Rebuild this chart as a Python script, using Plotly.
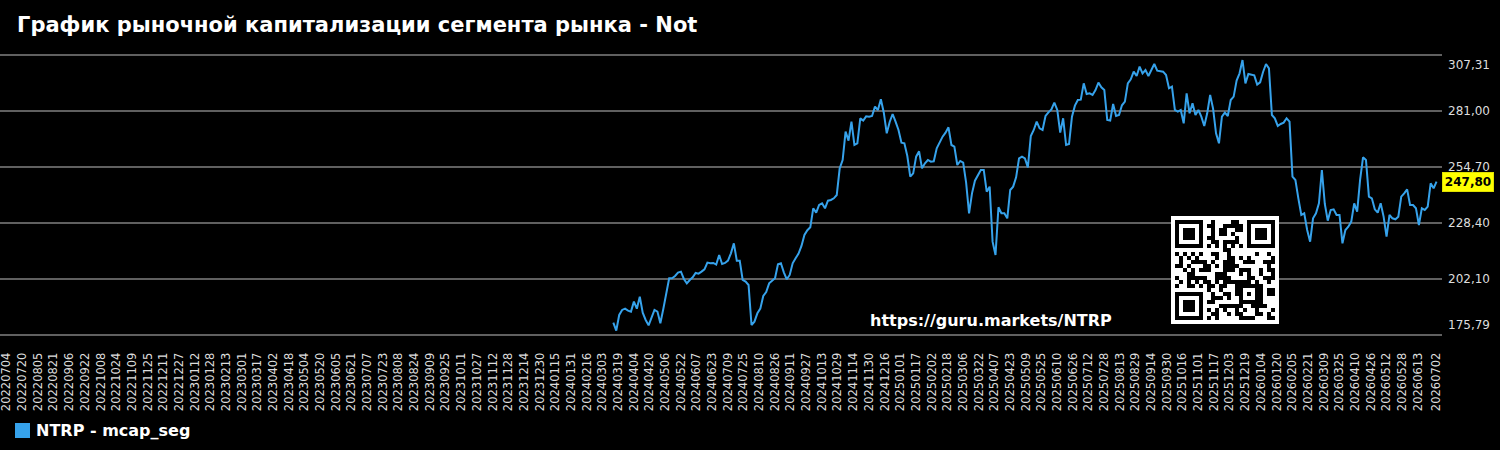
import plotly.graph_objects as go
import pandas as pd

# ---------------- data ----------------
series_name = "NTRP - mcap_seg"
start_date = "2024-03-14"
step = "3D"
mcap_values = [
    181.60, 177.84, 185.20, 187.55, 188.17, 187.23, 186.77, 191.46, 188.17, 193.81,
    186.30, 182.85, 180.35, 183.63, 187.55, 186.77, 181.29, 188.02, 194.59, 202.42,
    202.42, 203.52, 205.08, 205.55, 202.11, 200.07, 201.64, 202.89, 204.93, 204.61,
    205.55, 206.65, 209.78, 209.47, 209.62, 208.84, 213.38, 209.15, 209.62, 210.72,
    214.16, 218.86, 210.72, 210.72, 201.64, 200.86, 199.29, 180.50, 182.07, 185.98,
    188.17, 194.12, 196.00, 200.07, 201.32, 202.42, 209.00, 209.47, 205.24, 201.95,
    203.99, 209.47, 211.81, 214.01, 217.61, 222.77, 225.00, 226.37, 235.30, 233.26,
    236.86, 237.64, 235.30, 238.89, 239.21, 239.99, 241.56, 254.08, 258.00, 271.30,
    267.07, 276.00, 265.04, 265.82, 277.56, 276.47, 278.50, 278.35, 278.66, 283.04,
    281.48, 286.49, 280.22, 270.52, 275.84, 279.60, 276.00, 272.08, 266.14, 265.82,
    259.87, 250.17, 251.73, 259.56, 262.06, 254.08, 256.43, 258.00, 257.21, 257.37,
    263.47, 266.14, 268.95, 270.83, 273.34, 265.04, 264.26, 255.65, 257.53, 256.74,
    247.35, 232.95, 242.34, 248.29, 250.79, 253.30, 253.30, 243.12, 245.47, 219.64,
    213.38, 235.77, 232.95, 232.95, 230.60, 243.91, 245.47, 249.85, 258.78, 259.56,
    258.78, 254.55, 269.27, 272.09, 276.00, 272.87, 272.09, 278.66, 280.38, 281.79,
    284.93, 281.48, 270.84, 277.57, 265.04, 265.51, 278.35, 283.52, 286.18, 286.33,
    294.00, 288.99, 289.31, 288.53, 290.87, 294.32, 292.13, 290.87, 276.78, 276.47,
    284.30, 278.66, 279.13, 283.67, 285.39, 294.00, 295.88, 299.48, 297.45, 301.83,
    298.70, 300.27, 297.45, 300.27, 303.08, 299.95, 299.80, 299.48, 297.92, 291.66,
    292.44, 281.48, 280.70, 281.48, 275.22, 289.31, 279.92, 284.61, 279.13, 281.48,
    278.35, 273.97, 279.92, 288.53, 282.11, 270.52, 265.83, 278.35, 280.23, 278.66,
    286.18, 287.74, 295.26, 298.70, 304.96, 294.00, 298.39, 298.08, 297.76, 293.38,
    294.47, 299.33, 303.08, 301.05, 279.13, 277.57, 273.97, 274.91, 275.53, 277.57,
    275.99, 250.17, 248.61, 239.99, 232.17, 232.95, 225.12, 219.64, 230.60, 232.95,
    237.65, 253.30, 237.33, 229.51, 234.52, 234.83, 232.17, 232.17, 218.86, 225.12,
    226.69, 229.04, 237.65, 233.73, 248.61, 259.25, 258.00, 240.78, 239.99, 234.83,
    233.27, 237.65, 231.39, 221.99, 232.17, 230.60, 230.13, 231.39, 240.78, 242.34,
    244.22, 236.86, 236.86, 235.30, 227.47, 235.30, 234.52, 236.08, 247.04, 244.69,
    247.80,
]
dates = pd.date_range(start_date, periods=len(mcap_values), freq=step)

y_ticks = [175.79, 202.10, 228.40, 254.70, 281.00, 307.31]
y_tick_labels = ["175,79", "202,10", "228,40", "254,70", "281,00", "307,31"]
last_label = "247,80"
x_tick_dates = list(pd.date_range("2022-07-04", "2026-06-13", freq="16D")) + [pd.Timestamp("2026-07-02")]
x_tick_labels = [d.strftime("%Y%m%d") for d in x_tick_dates]
x_range = ["2022-06-27 04:00", "2026-07-07 14:00"]

title_text = "График рыночной капитализации сегмента рынка - Not"
url_text = "https://guru.markets/NTRP"

LINE_COLOR = "rgb(54,162,235)"
FONT = "DejaVu Sans"

# ---------------- minimal QR encoder (version 2-M, byte mode) ----------------
def qr_matrix(text):
    data = text.encode("utf-8")
    size = 25
    bits = []

    def append(val, n):
        for i in range(n - 1, -1, -1):
            bits.append((val >> i) & 1)

    append(0b0100, 4)
    append(len(data), 8)
    for b in data:
        append(b, 8)
    cap = 28 * 8
    append(0, min(4, cap - len(bits)))
    append(0, (-len(bits)) % 8)
    pad = 0xEC
    while len(bits) < cap:
        append(pad, 8)
        pad ^= 0xEC ^ 0x11
    cws = [int("".join(map(str, bits[i:i + 8])), 2) for i in range(0, cap, 8)]

    def gmul(x, y):
        z = 0
        for i in range(7, -1, -1):
            z = (z << 1) ^ ((z >> 7) * 0x11D)
            z ^= ((y >> i) & 1) * x
        return z

    deg = 16
    div = [0] * (deg - 1) + [1]
    root = 1
    for _ in range(deg):
        for j in range(deg):
            div[j] = gmul(div[j], root)
            if j + 1 < deg:
                div[j] ^= div[j + 1]
        root = gmul(root, 2)
    rem = [0] * deg
    for b in cws:
        f = b ^ rem.pop(0)
        rem.append(0)
        for i, c in enumerate(div):
            rem[i] ^= gmul(c, f)
    allcw = cws + rem

    M = [[0] * size for _ in range(size)]
    F = [[False] * size for _ in range(size)]

    def setf(x, y, v):
        M[y][x] = 1 if v else 0
        F[y][x] = True

    for i in range(size):
        setf(6, i, i % 2 == 0)
        setf(i, 6, i % 2 == 0)
    for cx, cy in ((3, 3), (size - 4, 3), (3, size - 4)):
        for dy in range(-4, 5):
            for dx in range(-4, 5):
                xx, yy = cx + dx, cy + dy
                if 0 <= xx < size and 0 <= yy < size:
                    setf(xx, yy, max(abs(dx), abs(dy)) not in (2, 4))
    for dy in range(-2, 3):
        for dx in range(-2, 3):
            setf(18 + dx, 18 + dy, max(abs(dx), abs(dy)) != 1)

    mask = 0

    def draw_format():
        d = (0 << 3) | mask
        r = d
        for _ in range(10):
            r = (r << 1) ^ ((r >> 9) * 0x537)
        b = ((d << 10) | r) ^ 0x5412
        g = lambda i: (b >> i) & 1
        for i in range(6):
            setf(8, i, g(i))
        setf(8, 7, g(6))
        setf(8, 8, g(7))
        setf(7, 8, g(8))
        for i in range(9, 15):
            setf(14 - i, 8, g(i))
        for i in range(8):
            setf(size - 1 - i, 8, g(i))
        for i in range(8, 15):
            setf(8, size - 15 + i, g(i))
        setf(8, size - 8, True)

    draw_format()
    i = 0
    total = len(allcw) * 8
    right = size - 1
    while right >= 1:
        if right == 6:
            right = 5
        for vert in range(size):
            for j in range(2):
                x = right - j
                upward = ((right + 1) & 2) == 0
                y = size - 1 - vert if upward else vert
                if not F[y][x] and i < total:
                    M[y][x] = (allcw[i >> 3] >> (7 - (i & 7))) & 1
                    i += 1
        right -= 2
    for y in range(size):
        for x in range(size):
            if not F[y][x] and (x + y) % 2 == 0:
                M[y][x] ^= 1
    z = [[0] * (size + 2) for _ in range(size + 2)]
    for y in range(size):
        for x in range(size):
            z[y + 1][x + 1] = M[y][x]
    return z

qr_z = qr_matrix(url_text)

# ---------------- figure ----------------
W, H = 1500, 450
ML, MR, MT, MB = 0, 58, 51, 111
PW = W - ML - MR
PH = H - MT - MB

def px(x):
    return (x - ML) / PW

def py(y):
    return (H - MB - y) / PH

fig = go.Figure()
fig.add_trace(go.Scatter(
    x=dates, y=mcap_values, mode="lines",
    line=dict(color=LINE_COLOR, width=2),
    showlegend=False, hoverinfo="skip",
))
fig.add_trace(go.Heatmap(
    z=qr_z, xaxis="x2", yaxis="y2",
    colorscale=[[0, "white"], [1, "black"]], zmin=0, zmax=1,
    showscale=False, hoverinfo="skip",
))

ypad = 4 * 26.30 / 56
fig.update_layout(
    width=W, height=H,
    margin=dict(l=ML, r=MR, t=MT, b=MB),
    paper_bgcolor="black", plot_bgcolor="black",
    showlegend=False,
    font=dict(family=FONT, color="#dddddd"),
    xaxis=dict(
        type="date", range=x_range,
        tickvals=x_tick_dates, ticktext=x_tick_labels,
        tickangle=-90, tickfont=dict(family=FONT, size=11.5, color="#dddddd"),
        ticks="outside", ticklen=8, tickcolor="rgba(0,0,0,0)",
        ticklabeloverflow="allow",
        showgrid=False, zeroline=False, showline=False,
    ),
    yaxis=dict(
        side="right", range=[y_ticks[0] - ypad, y_ticks[-1] + ypad],
        tickvals=y_ticks, showticklabels=False,
        showgrid=True, gridcolor="#606060", gridwidth=2,
        zeroline=False, showline=False,
    ),
    xaxis2=dict(domain=[px(1171), px(1279)], range=[-0.5, 26.5], visible=False,
                anchor="y2", fixedrange=True),
    yaxis2=dict(domain=[py(324), py(216)], range=[26.5, -0.5], visible=False,
                anchor="x2", fixedrange=True),
)

annotations = []
for i, (v, lab) in enumerate(zip(y_ticks, y_tick_labels)):
    shift = 0
    if i == 0:
        shift = 10
    elif i == len(y_ticks) - 1:
        shift = -10
    annotations.append(dict(
        x=1, xref="paper", y=v, yref="y", text=lab, showarrow=False,
        xanchor="left", yanchor="middle", xshift=4, yshift=shift,
        font=dict(family=FONT, size=12, color="#dddddd"),
    ))
annotations.append(dict(
    x=1, xref="paper", y=mcap_values[-1], yref="y", text="<b>" + last_label + "</b>",
    showarrow=False, xanchor="left", yanchor="middle", xshift=0,
    bgcolor="#ffff00", bordercolor="#e0e000", borderwidth=1, borderpad=2,
    width=46, height=14,
    font=dict(family=FONT, size=12, color="black"),
))
annotations.append(dict(
    x=px(15), xref="paper", y=py(25), yref="paper", text="<b>" + title_text + "</b>",
    showarrow=False, xanchor="left", yanchor="middle",
    font=dict(family=FONT, size=21, color="white"),
))
annotations.append(dict(
    x=px(868), xref="paper", y=py(320), yref="paper", text="<b>" + url_text + "</b>",
    showarrow=False, xanchor="left", yanchor="middle",
    font=dict(family=FONT, size=16, color="white"),
))
annotations.append(dict(
    x=px(34), xref="paper", y=py(430.5), yref="paper", text="<b>" + series_name + "</b>",
    showarrow=False, xanchor="left", yanchor="middle",
    font=dict(family=FONT, size=16, color="white"),
))
fig.update_layout(annotations=annotations)
fig.add_shape(type="rect", xref="paper", yref="paper",
              x0=px(15), x1=px(30), y0=py(438), y1=py(423),
              fillcolor=LINE_COLOR, line=dict(width=0))

fig.write_html("out.html")
